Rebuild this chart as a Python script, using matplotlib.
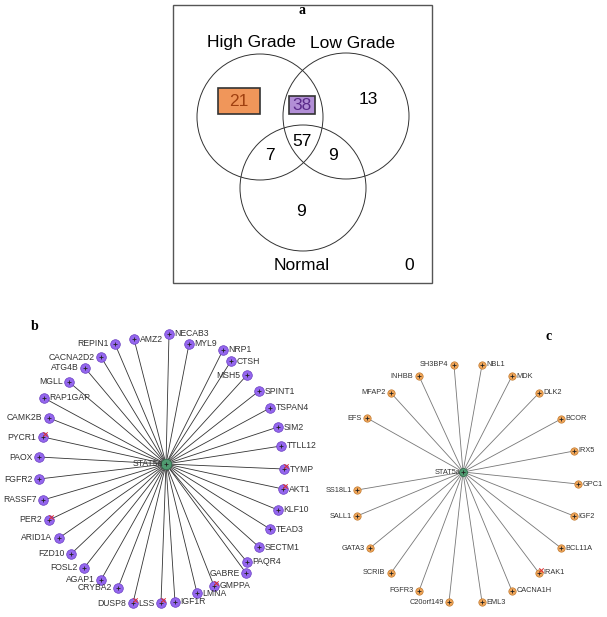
import matplotlib
matplotlib.use("Agg")
from matplotlib import pyplot as plt
from matplotlib.patches import Circle, Rectangle

# ------------- Data ---------------

venn_sets = ["High Grade", "Low Grade", "Normal"]
venn_counts = {"HG": 21, "HG_LG": 38, "LG": 13, "HG_N": 7, "ALL": 57,
               "LG_N": 9, "N": 9, "NONE": 0}

# network b : genes linked to STAT5a (38 genes)
b_genes = ["NECAB3", "AMZ2", "REPIN1", "MYL9", "NRP1", "CACNA2D2", "CTSH",
           "ATG4B", "MSH5", "MGLL", "SPINT1", "RAP1GAP", "TSPAN4", "CAMK2B",
           "SIM2", "PYCR1", "TTLL12", "PAOX", "TYMP", "FGFR2", "AKT1",
           "RASSF7", "KLF10", "PER2", "TEAD3", "ARID1A", "SECTM1", "FZD10",
           "PAQR4", "FOSL2", "GABRE", "AGAP1", "GMPPA", "CRYBA2", "LMNA",
           "DUSP8", "LSS", "IGF1R"]
b_x = [169, 134, 115, 189, 223, 101, 231, 85, 247, 69, 259, 44, 270, 49,
       278, 43, 281, 39, 284, 39, 283, 43, 278, 49, 270, 59, 259, 71, 247,
       84, 246, 101, 214, 118, 197, 133, 161, 175]
b_y = [334, 339, 344, 344, 350, 357, 361, 368, 375, 382, 391, 398, 408, 418,
       427, 437, 446, 457, 469, 479, 489, 500, 510, 520, 529, 538, 547, 554,
       562, 568, 573, 580, 586, 588, 593, 603, 603, 602]
b_side = ["r", "r", "l", "r", "r", "l", "r", "l", "l", "l", "r", "r", "r",
          "l", "r", "l", "r", "l", "r", "l", "r", "l", "r", "l", "r", "l",
          "r", "l", "r", "l", "l", "l", "r", "l", "r", "l", "l", "r"]
b_flag = ["PYCR1", "TYMP", "AKT1", "PER2", "GMPPA", "DUSP8", "LSS"]
b_hub = (166, 464)

# network c : genes linked to STAT5a (21 genes)
c_genes = ["SH3BP4", "NBL1", "INHBB", "MDK", "MFAP2", "DLK2", "EFS", "BCOR",
           "IRX5", "SS18L1", "GPC1", "SALL1", "IGF2", "GATA3", "BCL11A",
           "SCRIB", "IRAK1", "FGFR3", "CACNA1H", "C20orf149", "EML3"]
c_x = [454, 482, 419, 512, 391, 539, 367, 561, 574, 357, 578, 357, 574,
       370, 561, 391, 539, 419, 512, 449, 482]
c_y = [365, 365, 376, 376, 393, 393, 418, 419, 451, 490, 484, 516, 516,
       548, 548, 573, 573, 591, 591, 602, 602]
c_side = ["l", "r", "l", "r", "l", "r", "l", "r", "r", "l", "r", "l", "r",
          "l", "r", "l", "r", "l", "r", "l", "r"]
c_flag = ["IRAK1"]
c_hub = (463, 472)

# ------------- Display ---------------

fig = plt.figure(figsize=(6.07, 6.17), dpi=100)
ax = fig.add_axes([0, 0, 1, 1])
ax.set_xlim(0, 607)
ax.set_ylim(617, 0)
ax.axis("off")

sans = "Liberation Sans"
serif = "Liberation Serif"

# --- panel a : venn ---
ax.add_patch(Rectangle((173, 5), 259, 278, fill=False, ec="#555555", lw=1.0))
for cx, cy in [(260, 117), (346, 116), (303, 188)]:
    ax.add_patch(Circle((cx, cy), 63, fill=False, ec="#333333", lw=0.7))

ax.add_patch(Rectangle((218, 88), 42, 26, fc="#f0965a", ec="#333333", lw=1.2))
ax.add_patch(Rectangle((289, 96), 26, 18, fc="#b28fd6", ec="#333333", lw=1.2))

ax.text(302, 10, "a", family=serif, weight="bold", fontsize=10, ha="center", va="center")
ax.text(251, 43, venn_sets[0], family=sans, fontsize=12.5, ha="center", va="center")
ax.text(353, 43, venn_sets[1], family=sans, fontsize=12.5, ha="center", va="center")
ax.text(302, 265, venn_sets[2], family=sans, fontsize=12.5, ha="center", va="center")

num_pos = {"HG": (239, 101), "HG_LG": (302, 105), "LG": (368, 100),
           "HG_N": (270, 155), "ALL": (302, 142), "LG_N": (333, 155),
           "N": (301, 211), "NONE": (409, 265)}
num_col = {"HG": "#a04010", "HG_LG": "#5a2a8a"}
for key, (tx, ty) in num_pos.items():
    ax.text(tx, ty, str(venn_counts[key]), family=sans, fontsize=12.5,
            color=num_col.get(key, "black"), ha="center", va="center")


# --- panels b and c : networks ---
def draw_network(genes, xs, ys, sides, flags, hub, node_col, edge_col,
                 line_col, size, fsize, lw, gap):
    for x, y in zip(xs, ys):
        ax.plot([hub[0], x], [hub[1], y], color=line_col, lw=lw, zorder=1)
    ax.scatter(xs, ys, s=size, c=node_col, edgecolors=edge_col,
               linewidths=0.5, zorder=3)
    ax.scatter(xs, ys, s=size * 0.25, marker="+", c="#222222",
               linewidths=0.6, zorder=4)
    for g, x, y, sd in zip(genes, xs, ys, sides):
        if sd == "r":
            ax.text(x + gap, y, g, family=sans, fontsize=fsize, ha="left",
                    va="center", color="#333333", zorder=5)
        else:
            ax.text(x - gap - 1, y, g, family=sans, fontsize=fsize, ha="right",
                    va="center", color="#333333", zorder=5)
        if g in flags:
            ax.scatter([x + 2], [y - 3.5], s=10, marker="x", c="#e03030",
                       linewidths=0.7, zorder=6)
    ax.scatter([hub[0]], [hub[1]], s=size * 1.2, c="#4f9a70", edgecolors="#2e6a48",
               linewidths=0.5, zorder=3)
    ax.scatter([hub[0]], [hub[1]], s=size * 0.25, marker="+", c="#222222",
               linewidths=0.6, zorder=4)
    ax.text(hub[0] - 3, hub[1], "STAT5a", family=sans, fontsize=fsize,
            ha="right", va="center", color="#333333", zorder=5)


draw_network(b_genes, b_x, b_y, b_side, b_flag, b_hub, "#9466ee", "#6a3fc0",
             "#333333", 48, 6.2, 0.6, 5.5)
draw_network(c_genes, c_x, c_y, c_side, c_flag, c_hub, "#f0a558", "#c07a30",
             "#777777", 28, 5.3, 0.6, 4.5)

ax.text(35, 327, "b", family=serif, weight="bold", fontsize=10, ha="center", va="center")
ax.text(549, 337, "c", family=serif, weight="bold", fontsize=10, ha="center", va="center")

fig.savefig("out.png", dpi=100)
